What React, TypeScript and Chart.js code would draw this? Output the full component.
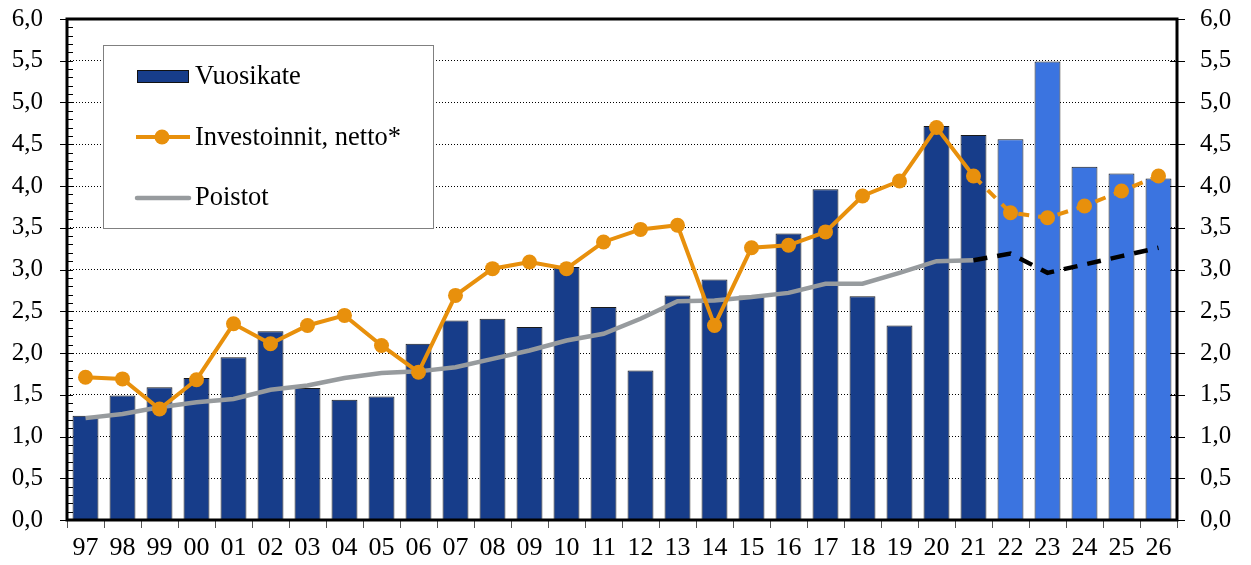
import React, { useEffect, useRef } from "react";
import { Chart, registerables } from "chart.js";

Chart.register(...registerables);

const years = ["97","98","99","00","01","02","03","04","05","06","07","08","09","10","11","12","13","14","15","16","17","18","19","20","21","22","23","24","25","26"];
const vuosikate = [1.25,1.49,1.59,1.70,1.95,2.26,1.58,1.44,1.48,2.11,2.39,2.41,2.31,3.03,2.55,1.79,2.69,2.88,2.69,3.43,3.96,2.68,2.33,4.72,4.61,4.56,5.49,4.23,4.15,4.09];
const investoinnit = [1.71,1.69,1.33,1.68,2.35,2.11,2.33,2.45,2.09,1.77,2.69,3.01,3.09,3.01,3.33,3.48,3.53,2.33,3.26,3.29,3.45,3.88,4.06,4.70,4.12,3.68,3.62,3.76,3.94,4.12];
const poistot = [1.22,1.27,1.35,1.41,1.45,1.56,1.61,1.70,1.76,1.78,1.83,1.93,2.03,2.15,2.23,2.41,2.62,2.63,2.67,2.72,2.83,2.83,2.96,3.10,3.11,3.19,2.96,3.06,3.16,3.26];
const yTicks = [0,0.5,1,1.5,2,2.5,3,3.5,4,4.5,5,5.5,6];
const forecastStart = 24;

const DARK = "#173D8A";
const LIGHT = "#3B74E0";
const ORANGE = "#E8900C";
const GRAY = "#979B9E";
const FONT = "'Liberation Serif', 'DejaVu Serif', serif";

const fmt = (v: number) => v.toFixed(1).replace(".", ",");

const decorPlugin = {
  id: "decor",
  beforeDatasetsDraw(chart: any) {
    const ctx = chart.ctx;
    ctx.save();
    ctx.fillStyle = "#fff";
    ctx.fillRect(103, 45, 330, 183);
    ctx.strokeStyle = "#808080";
    ctx.lineWidth = 1;
    ctx.strokeRect(103.5, 45.5, 330, 183);
    ctx.font = `26.5px ${FONT}`;
    ctx.textBaseline = "middle";
    ctx.textAlign = "left";
    // Vuosikate
    ctx.fillStyle = DARK;
    ctx.fillRect(137, 70, 52, 13);
    ctx.strokeStyle = "#111";
    ctx.strokeRect(137.5, 70.5, 51, 12);
    ctx.fillStyle = "#000";
    ctx.fillText("Vuosikate", 195, 77);
    // Investoinnit
    ctx.strokeStyle = ORANGE;
    ctx.lineWidth = 4;
    ctx.beginPath();
    ctx.moveTo(136, 137);
    ctx.lineTo(190, 137);
    ctx.stroke();
    ctx.fillStyle = ORANGE;
    ctx.beginPath();
    ctx.arc(162, 137, 7.5, 0, Math.PI * 2);
    ctx.fill();
    ctx.fillStyle = "#000";
    ctx.fillText("Investoinnit, netto*", 195, 138);
    // Poistot
    ctx.strokeStyle = GRAY;
    ctx.lineWidth = 4.5;
    ctx.lineCap = "round";
    ctx.beginPath();
    ctx.moveTo(137, 198);
    ctx.lineTo(189, 198);
    ctx.stroke();
    ctx.fillText("Poistot", 195, 198);
    ctx.restore();
  },
  afterDraw(chart: any) {
    const ctx = chart.ctx;
    const a = chart.chartArea;
    const y = chart.scales.y;
    ctx.save();
    ctx.strokeStyle = "#000";
    ctx.lineWidth = 1;
    for (let i = 0; i <= 60; i++) {
      const v = i / 10;
      const py = Math.round(y.getPixelForValue(v)) + 0.5;
      const major = i % 5 === 0;
      ctx.beginPath();
      ctx.moveTo(major ? a.left - 7 : a.left, py);
      ctx.lineTo(a.left + 6, py);
      ctx.stroke();
      if (major) {
        ctx.beginPath();
        ctx.moveTo(a.right - 7, py);
        ctx.lineTo(a.right + 8, py);
        ctx.stroke();
      }
    }
    ctx.lineWidth = 3;
    ctx.strokeRect(a.left, a.top, a.right - a.left, a.bottom - a.top);
    ctx.restore();
  },
};

export default function App() {
  const ref = useRef<HTMLCanvasElement>(null);
  useEffect(() => {
    if (!ref.current) return;
    const chart = new Chart(ref.current, {
      type: "bar",
      data: {
        labels: years,
        datasets: [
          {
            type: "line",
            label: "Investoinnit, netto*",
            data: investoinnit,
            borderColor: ORANGE,
            backgroundColor: ORANGE,
            borderWidth: 4,
            pointRadius: 7.5,
            pointBackgroundColor: ORANGE,
            pointBorderColor: ORANGE,
            pointBorderWidth: 0,
            tension: 0,
            order: 1,
            segment: {
              borderDash: (c: any) => (c.p0DataIndex >= forecastStart ? [11, 9] : undefined),
            },
          } as any,
          {
            type: "line",
            label: "Poistot",
            data: poistot,
            borderColor: GRAY,
            borderWidth: 4.5,
            pointRadius: 0,
            tension: 0,
            order: 2,
            segment: {
              borderColor: (c: any) => (c.p0DataIndex >= forecastStart ? "#000" : GRAY),
              borderDash: (c: any) => (c.p0DataIndex >= forecastStart ? [14, 10] : undefined),
            },
          } as any,
          {
            type: "bar",
            label: "Vuosikate",
            data: vuosikate,
            backgroundColor: vuosikate.map((_, i) => (i > forecastStart ? LIGHT : DARK)),
            borderColor: "#1a1a1a",
            borderWidth: 1,
            categoryPercentage: 1,
            barPercentage: 0.7,
            order: 3,
          },
        ],
      },
      options: {
        animation: false,
        responsive: true,
        maintainAspectRatio: false,
        layout: { padding: { top: 19, left: 0, right: 0, bottom: 0 } },
        plugins: { legend: { display: false }, tooltip: { enabled: false } },
        scales: {
          x: {
            offset: true,
            grid: {
              offset: true,
              drawOnChartArea: false,
              drawTicks: true,
              tickLength: 8,
              color: "#555",
            },
            border: { display: false },
            ticks: {
              color: "#000",
              font: { family: FONT, size: 26 },
              padding: 5,
              maxRotation: 0,
              autoSkip: false,
            },
            afterFit(s: any) {
              s.height = 45;
              s.paddingLeft = 0;
              s.paddingRight = 0;
            },
          },
          y: {
            position: "left",
            min: 0,
            max: 6,
            afterBuildTicks(s: any) {
              s.ticks = yTicks.map((v) => ({ value: v }));
            },
            grid: {
              color: "#000",
              lineWidth: 1,
              drawTicks: false,
            },
            border: { display: false, dash: [1, 2] },
            ticks: {
              color: "#000",
              font: { family: FONT, size: 25 },
              padding: 24,
              callback: (v: any) => fmt(Number(v)),
            },
            afterFit(s: any) {
              s.width = 67;
              s.paddingTop = 0;
              s.paddingBottom = 0;
            },
          },
          y2: {
            position: "right",
            min: 0,
            max: 6,
            afterBuildTicks(s: any) {
              s.ticks = yTicks.map((v) => ({ value: v }));
            },
            grid: { drawOnChartArea: false, drawTicks: false },
            border: { display: false },
            ticks: {
              color: "#000",
              font: { family: FONT, size: 25 },
              padding: 23,
              callback: (v: any) => fmt(Number(v)),
            },
            afterFit(s: any) {
              s.width = 74;
              s.paddingTop = 0;
              s.paddingBottom = 0;
            },
          },
        },
      },
      plugins: [decorPlugin],
    });
    return () => chart.destroy();
  }, []);
  return (
    <div style={{ position: "fixed", left: 0, top: 0, width: 1251, height: 565, background: "#fff" }}>
      <canvas ref={ref} />
    </div>
  );
}
